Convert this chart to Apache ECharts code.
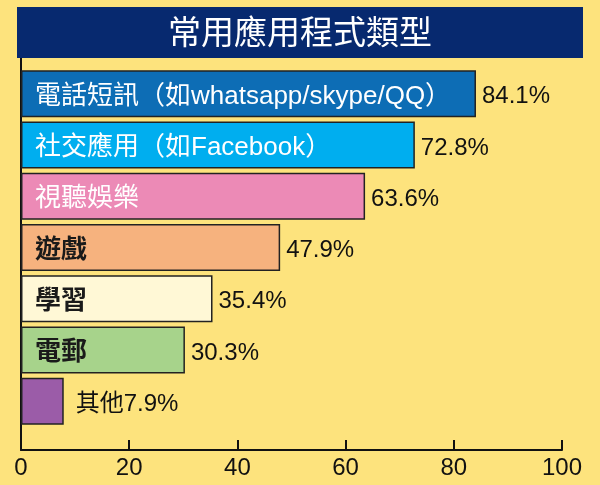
<!DOCTYPE html>
<html>
<head>
<meta charset="utf-8">
<script src="https://cdn.jsdelivr.net/npm/echarts@6/dist/echarts.min.js"></script>
<style>
html,body{margin:0;padding:0;background:#fde37d;}
#chart{width:600px;height:485px;}
</style>
</head>
<body>
<div id="chart"></div>
<script>
const titleText = '常用應用程式類型';
const categories = ['電話短訊（如whatsapp/skype/QQ）','社交應用（如Facebook）','視聽娛樂','遊戲','學習','電郵','其他'];
const values = [84.1, 72.8, 63.6, 47.9, 35.4, 30.3, 7.9];
const xTicks = [0, 20, 40, 60, 80, 100];

const barColors = ['#0d6db5','#00aeef','#ec8ab6','#f6b27e','#fff8d6','#a7d38b','#9b5ca8'];
const labelColors = ['#ffffff','#ffffff','#ffffff','#1a1a1a','#1a1a1a','#1a1a1a','#1a1a1a'];
const labelWeights = ['normal','normal','normal','bold','bold','bold','normal'];
const outsideName = [false,false,false,false,false,false,true];

const FONT = '"Liberation Sans", "Noto Sans CJK TC", sans-serif';
const chart = echarts.init(document.getElementById('chart'));

const mainData = values.map((v,i)=>({
  value: v,
  itemStyle: {color: barColors[i]},
  label: {color: labelColors[i], fontWeight: labelWeights[i]}
}));
const valData = values.map((v,i)=>({
  value: v,
  label: {distance: outsideName[i] ? 12 : 6}
}));

chart.setOption({
  backgroundColor: '#fde37d',
  animation: false,
  title: {
    text: titleText,
    left: 17, top: 7,
    backgroundColor: '#07296f',
    padding: [11, 151, 7, 151],
    textStyle: {color:'#ffffff', fontSize: 33, fontWeight: 'normal', fontFamily: FONT, lineHeight: 33}
  },
  grid: [
    {left: 21, right: 38, top: 68, height: 359, containLabel: false},
    {left: 21, right: 38, top: 57, bottom: 35, containLabel: false}
  ],
  xAxis: [
    {gridIndex: 0, type: 'value', min: 0, max: 100, show: false},
    {gridIndex: 1, type: 'value', min: xTicks[0], max: xTicks[xTicks.length-1], interval: 20,
     axisLine: {show: true, lineStyle: {color:'#111', width: 2}},
     axisTick: {show: true, inside: true, length: 10, lineStyle: {color:'#111', width: 2}},
     axisLabel: {color:'#111', fontSize: 24, fontFamily: FONT, margin: 6},
     splitLine: {show: false}}
  ],
  yAxis: [
    {gridIndex: 0, type: 'category', data: categories, inverse: true, show: false},
    {gridIndex: 1, type: 'value', min: 0, max: 1,
     axisLine: {show: true, lineStyle: {color:'#111', width: 2}},
     axisTick: {show: false}, axisLabel: {show: false}, splitLine: {show: false}}
  ],
  series: [
    {
      type: 'bar', xAxisIndex: 0, yAxisIndex: 0,
      data: mainData, barWidth: 47,
      itemStyle: {borderColor: '#222', borderWidth: 1.5},
      label: {
        show: true, position: 'insideLeft', distance: 14, offset: [0, 3],
        fontSize: 26, fontFamily: FONT,
        formatter: p => outsideName[p.dataIndex] ? '' : categories[p.dataIndex]
      },
      z: 2
    },
    {
      type: 'bar', xAxisIndex: 0, yAxisIndex: 0,
      data: valData, barWidth: 47, barGap: '-100%',
      itemStyle: {color: 'rgba(0,0,0,0)'},
      label: {
        show: true, position: 'right', offset: [0, 3],
        fontSize: 24, fontFamily: FONT, color: '#111',
        formatter: p => (outsideName[p.dataIndex] ? categories[p.dataIndex] : '') + p.value.toFixed(1) + '%'
      },
      z: 3
    }
  ]
});
</script>
</body>
</html>
